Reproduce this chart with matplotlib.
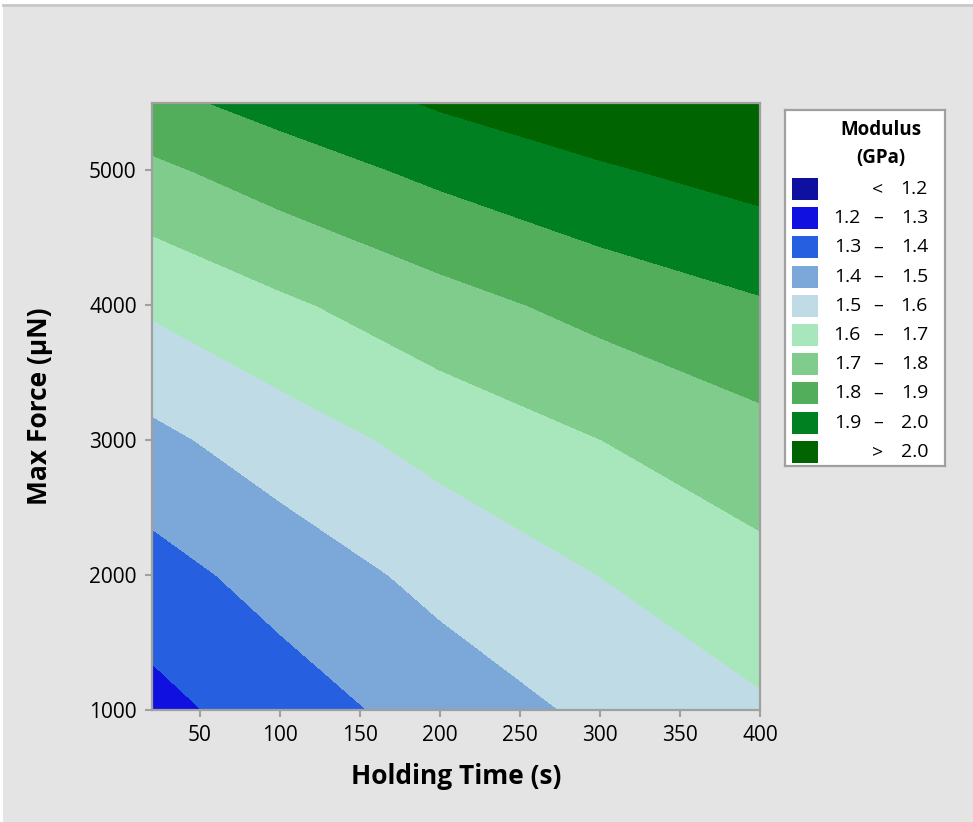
import numpy as np
import matplotlib
matplotlib.use("Agg")
import matplotlib.pyplot as plt
from matplotlib.patches import Rectangle
from matplotlib.lines import Line2D

plt.rcParams['font.family'] = ['Open Sans', 'DejaVu Sans']

# Modulus (GPa) at grid nodes
hold_time = [20, 100, 200, 300, 400]            # s
max_force = [1000, 2000, 3000, 4000, 5000, 5500]  # uN
mod_1000 = [1.268, 1.350, 1.442, 1.520, 1.587]
mod_2000 = [1.361, 1.439, 1.529, 1.601, 1.668]
mod_3000 = [1.475, 1.551, 1.633, 1.699, 1.766]
mod_4000 = [1.615, 1.682, 1.762, 1.832, 1.889]
mod_5000 = [1.779, 1.849, 1.924, 1.988, 2.040]
mod_5500 = [1.872, 1.935, 2.011, 2.068, 2.124]

levels = [0.0, 1.2, 1.3, 1.4, 1.5, 1.6, 1.7, 1.8, 1.9, 2.0, 3.0]
band_colors = ['#1010a0', '#1010e0', '#2660e0', '#7ba7d9', '#bfdce6',
               '#a8e6bc', '#80cc8c', '#52ae5a', '#008020', '#006400']
band_lo = ['<', '1.2', '1.3', '1.4', '1.5', '1.6', '1.7', '1.8', '1.9', '>']
band_hi = ['1.2', '1.3', '1.4', '1.5', '1.6', '1.7', '1.8', '1.9', '2.0', '2.0']

xticks = [50, 100, 150, 200, 250, 300, 350, 400]
yticks = [1000, 2000, 3000, 4000, 5000]

W, H = 973, 822
bg = '#e4e4e4'
frame = '#a0a0a0'

fig = plt.figure(figsize=(W / 100, H / 100), dpi=100, facecolor=bg)
# thin white margin + grey top border, like the Minitab export
fig.add_artist(Rectangle((0, 0), 3 / W, 1, transform=fig.transFigure,
                         facecolor='white', edgecolor='none'))
fig.add_artist(Rectangle((0, 1 - 5 / H), 1, 5 / H, transform=fig.transFigure,
                         facecolor='white', edgecolor='none'))
fig.add_artist(Line2D([3 / W, 1], [1 - 5 / H, 1 - 5 / H], transform=fig.transFigure,
                      color='#c8c8c8', lw=2))

ax = fig.add_axes([152 / W, 1 - 710 / H, 608 / W, 607 / H])
Z = np.array([mod_1000, mod_2000, mod_3000, mod_4000, mod_5000, mod_5500])
X, Y = np.meshgrid(hold_time, max_force)
ax.contourf(X, Y, Z, levels=levels, colors=band_colors, antialiased=False)

ax.set_xlim(20, 400)
ax.set_ylim(1000, 5500)
ax.set_xticks(xticks)
ax.set_yticks(yticks)
for s in ax.spines.values():
    s.set_color(frame)
    s.set_linewidth(1.6)
ax.tick_params(direction='out', length=5, width=1.5, color=frame,
               labelsize=15, pad=6)

ax.set_xlabel('Holding Time (s)', fontsize=19, fontweight='bold', labelpad=12)
ax.set_ylabel('Max Force (\u03bcN)', fontsize=19, fontweight='bold', labelpad=26)

# legend drawn by hand in pixel units
lx0, ly0, lw, lh = 785, 110, 160, 356
lax = fig.add_axes([lx0 / W, 1 - (ly0 + lh) / H, lw / W, lh / H])
lax.set_xlim(0, lw)
lax.set_ylim(lh, 0)
lax.set_xticks([])
lax.set_yticks([])
lax.set_facecolor('white')
for s in lax.spines.values():
    s.set_color(frame)
    s.set_linewidth(1.6)

lax.text(96, 20, 'Modulus', ha='center', va='center', fontsize=13.5, fontweight='bold')
lax.text(96, 48, '(GPa)', ha='center', va='center', fontsize=13.5, fontweight='bold')
for i, (c, lo, hi) in enumerate(zip(band_colors, band_lo, band_hi)):
    yc = 79 + 29.2 * i
    lax.add_patch(Rectangle((7, yc - 11), 26, 22, facecolor=c, edgecolor='none'))
    if lo in ('<', '>'):
        lax.text(93, yc, lo, ha='center', va='center', fontsize=14)
    else:
        lax.text(76, yc, lo, ha='right', va='center', fontsize=14)
        lax.text(93, yc, '\u2013', ha='center', va='center', fontsize=14)
    lax.text(143, yc, hi, ha='right', va='center', fontsize=14)

fig.savefig('out.png', dpi=100, facecolor=fig.get_facecolor())
